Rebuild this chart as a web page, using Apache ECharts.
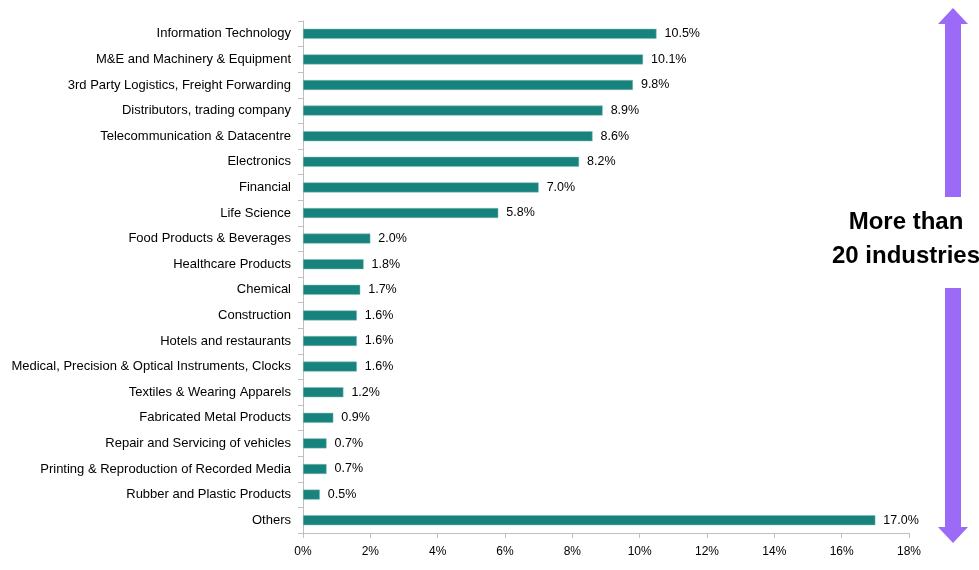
<!DOCTYPE html>
<html>
<head>
<meta charset="utf-8">
<script src="https://cdn.jsdelivr.net/npm/echarts@6/dist/echarts.min.js"></script>
<style>html,body{margin:0;padding:0;background:#fff;}#c{width:979px;height:570px;}</style>
</head>
<body>
<div id="c"></div>
<script>
var categories = [
  "Information Technology",
  "M&E and Machinery & Equipment",
  "3rd Party Logistics, Freight Forwarding",
  "Distributors, trading company",
  "Telecommunication & Datacentre",
  "Electronics",
  "Financial",
  "Life Science",
  "Food Products & Beverages",
  "Healthcare Products",
  "Chemical",
  "Construction",
  "Hotels and restaurants",
  "Medical, Precision & Optical Instruments, Clocks",
  "Textiles & Wearing Apparels",
  "Fabricated Metal Products",
  "Repair and Servicing of vehicles",
  "Printing & Reproduction of Recorded Media",
  "Rubber and Plastic Products",
  "Others"
];
var shares = [10.5, 10.1, 9.8, 8.9, 8.6, 8.2, 7.0, 5.8, 2.0, 1.8, 1.7, 1.6, 1.6, 1.6, 1.2, 0.9, 0.7, 0.7, 0.5, 17.0];
var xTicks = { min: 0, max: 18, interval: 2 };
var noteLines = ["More than", "20 industries"];

var chart = echarts.init(document.getElementById('c'));
var font = '"Liberation Sans", Arial, sans-serif';
var purple = '#9B6BF7';
chart.setOption({
  animation: false,
  grid: { left: 303, right: 70, top: 21, bottom: 37, containLabel: false },
  xAxis: {
    type: 'value', min: xTicks.min, max: xTicks.max, interval: xTicks.interval,
    axisLine: { show: true, lineStyle: { color: '#bfbfbf' } },
    axisTick: { show: true, length: 5, lineStyle: { color: '#bfbfbf' } },
    splitLine: { show: false },
    axisLabel: { formatter: '{value}%', color: '#000', fontFamily: font, fontSize: 12, margin: 13 }
  },
  yAxis: {
    type: 'category', data: categories, inverse: true,
    axisLine: { show: true, lineStyle: { color: '#bfbfbf' } },
    axisTick: { show: true, length: 5, lineStyle: { color: '#bfbfbf' } },
    axisLabel: { color: '#000', fontFamily: font, fontSize: 13, margin: 12 }
  },
  series: [{
    type: 'bar', data: shares, barWidth: 10,
    itemStyle: { color: '#18837D', borderColor: '#7fbdb8', borderWidth: 0.5 },
    label: { show: true, position: 'right', distance: 8, color: '#000', fontFamily: font, fontSize: 12.5,
      formatter: function (p) { return p.value.toFixed(1) + '%'; } }
  }],
  graphic: [
    { type: 'polygon', shape: { points: [[953, 8], [968, 24], [961, 24], [961, 197], [945, 197], [945, 24], [938, 24]] },
      style: { fill: purple } },
    { type: 'polygon', shape: { points: [[945, 288], [961, 288], [961, 527], [968, 527], [953, 543], [938, 527], [945, 527]] },
      style: { fill: purple } },
    { type: 'text', x: 906, y: 222, style: { text: noteLines[0], fill: '#000', font: 'bold 24px ' + font, textAlign: 'center', textVerticalAlign: 'middle' } },
    { type: 'text', x: 906, y: 256, style: { text: noteLines[1], fill: '#000', font: 'bold 24px ' + font, textAlign: 'center', textVerticalAlign: 'middle' } }
  ]
});
</script>
</body>
</html>
